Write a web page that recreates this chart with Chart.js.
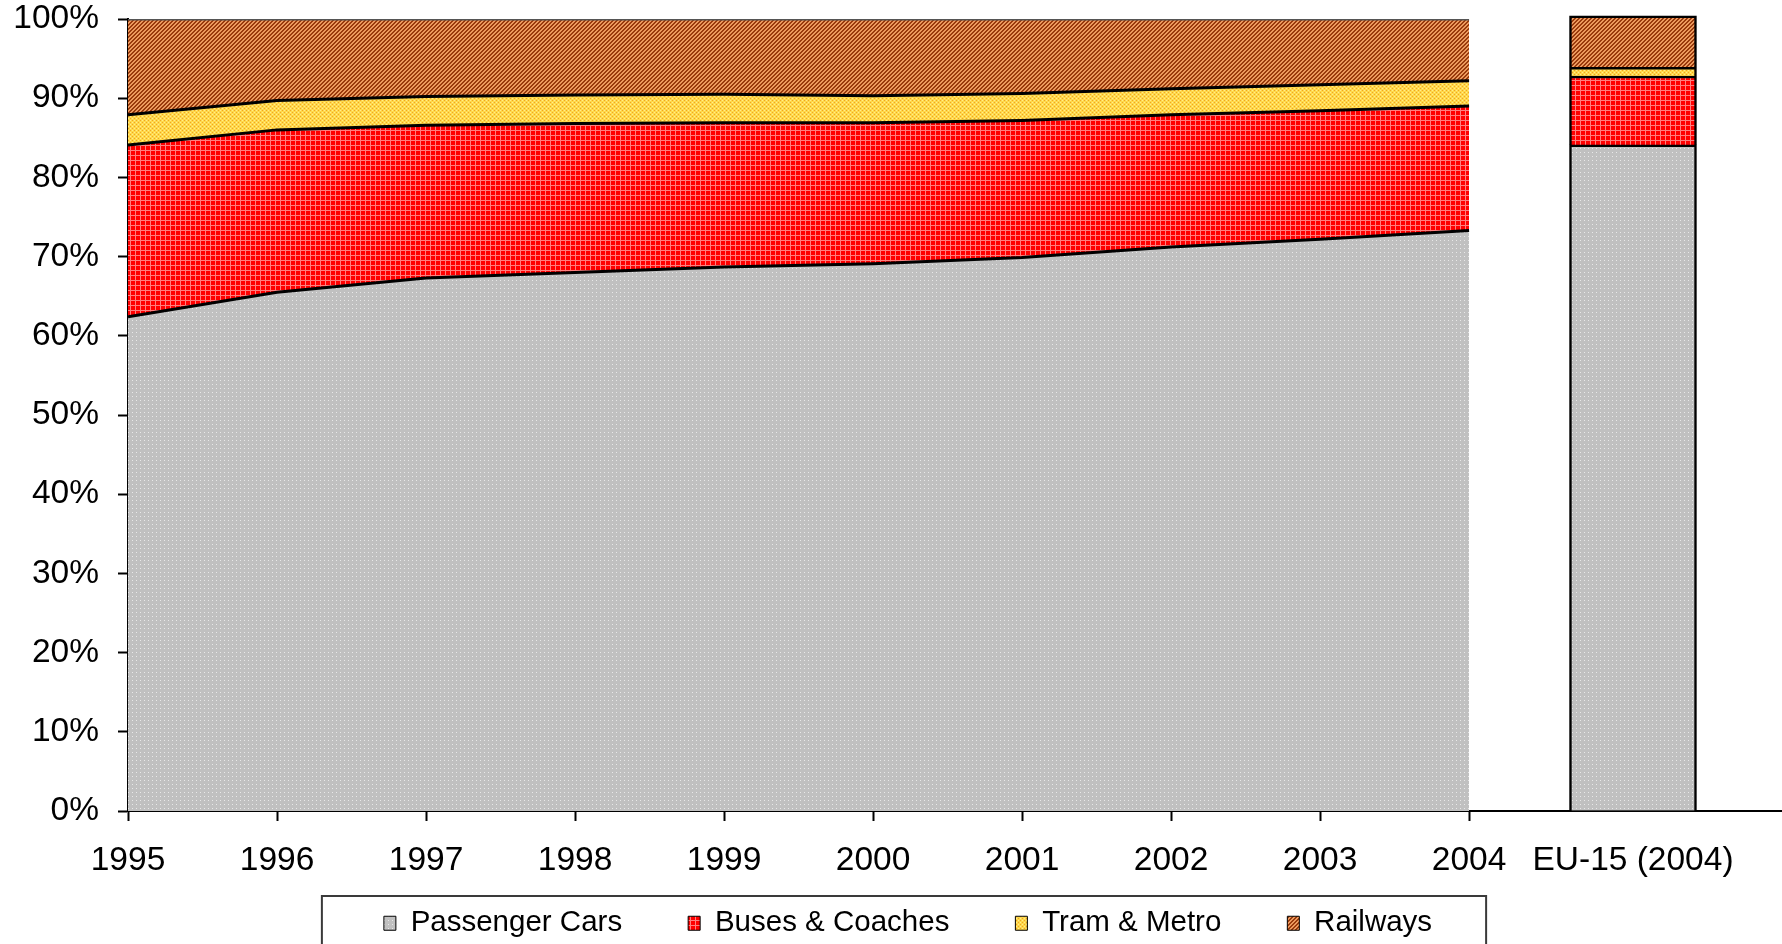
<!DOCTYPE html>
<html>
<head>
<meta charset="utf-8">
<script src="https://cdn.jsdelivr.net/npm/chart.js@4.4.1/dist/chart.umd.min.js"></script>
<style>
html,body{margin:0;padding:0;background:#fff;}
#wrap{width:1782px;height:944px;position:relative;}
</style>
</head>
<body>
<div id="wrap"><canvas id="c"></canvas></div>
<script>
// ---- data (percent shares of passenger transport) ----
const years = ['1995','1996','1997','1998','1999','2000','2001','2002','2003','2004'];
const euLabel = 'EU-15 (2004)';
const seriesNames = ['Passenger Cars','Buses & Coaches','Tram & Metro','Railways'];
const passengerCars = [62.4, 65.5, 67.3, 68.0, 68.7, 69.1, 69.9, 71.2, 72.2, 73.3];
const busesCoaches  = [21.7, 20.5, 19.3, 18.8, 18.2, 17.8, 17.3, 16.7, 16.2, 15.7];
const tramMetro     = [ 3.8,  3.7,  3.6,  3.6,  3.6,  3.4,  3.4,  3.3,  3.3,  3.2];
const railways      = [12.1, 10.3,  9.8,  9.6,  9.5,  9.7,  9.4,  8.8,  8.3,  7.8];
const eu15          = [84.1, 8.7, 1.1, 6.5]; // cars, buses, tram, railways
const yTicks = [0,10,20,30,40,50,60,70,80,90,100];

// ---- styles ----
const EU_POS = 10.1;   // axis position of the EU-15 column
const X_MAX = 11.1;
const TICK_FONT = 33.5;

function makePattern(w, h, draw) {
  const c = document.createElement('canvas');
  c.width = w; c.height = h;
  const g = c.getContext('2d');
  draw(g);
  return g.createPattern(c, 'repeat');
}
const fills = [
  makePattern(4, 4, g => { g.fillStyle = '#C0C0C0'; g.fillRect(0,0,4,4); g.fillStyle = '#E8E8E8'; g.fillRect(0,0,1,1); }),
  makePattern(5, 5, g => { g.fillStyle = '#FF0000'; g.fillRect(0,0,5,5); g.fillStyle = '#FF7F7F'; g.fillRect(0,0,5,1); g.fillRect(0,0,1,5); }),
  makePattern(4, 4, g => { g.fillStyle = '#FFD84A'; g.fillRect(0,0,4,4); g.fillStyle = '#F0A424'; g.fillRect(0,0,1,1); g.fillRect(2,2,1,1); g.fillStyle = '#FFEC90'; g.fillRect(2,0,1,1); g.fillRect(0,2,1,1); }),
  makePattern(4, 4, g => { for (let x = 0; x < 4; x++) for (let y = 0; y < 4; y++) { g.fillStyle = ((x + y) % 4 < 2) ? '#993A0C' : '#EC9A5E'; g.fillRect(x, y, 1, 1); } })
];

const areaSeries = [passengerCars, busesCoaches, tramMetro, railways];
const areaFill = ['origin', '-1', '-1', '-1'];

const datasets = [];
areaSeries.forEach((vals, k) => {
  datasets.push({
    type: 'line',
    label: seriesNames[k],
    data: vals.map((v, i) => ({x: i, y: v})),
    backgroundColor: fills[k],
    borderColor: k === 3 ? '#555555' : '#000000',
    borderWidth: 3,
    pointRadius: 0,
    tension: 0,
    fill: areaFill[k]
  });
});
eu15.forEach((v, k) => {
  datasets.push({
    type: 'bar',
    label: seriesNames[k],
    stack: 'eu',
    data: [{x: EU_POS, y: v}],
    backgroundColor: fills[k],
    borderColor: '#000000',
    borderWidth: 2.5,
    barThickness: 127,
    clip: false
  });
});

// legend: placed just below the axis labels and framed
const LEGEND_PAD = 66;
const legendPlacer = {
  id: 'legendPlacer',
  afterLayout(chart) {
    const lg = chart.legend;
    if (!lg) return;
    lg.left = 34;
    lg.top = chart.chartArea.bottom + 31.5;
  },
  afterDraw(chart) {
    const lg = chart.legend;
    const hb = lg && lg.legendHitBoxes;
    if (!hb || !hb.length) return;
    const ctx = chart.ctx;
    const last = hb[hb.length - 1];
    const l = hb[0].left - 62;
    const r = last.left + last.width + 54;
    const t = lg.top + LEGEND_PAD - 12.5;
    ctx.save();
    ctx.strokeStyle = '#3a3a3a';
    ctx.lineWidth = 2;
    ctx.strokeRect(l, t, r - l, 200);
    ctx.restore();
  }
};

Chart.defaults.font.family = "'Liberation Sans', Arial, sans-serif";
Chart.defaults.color = '#000';

new Chart(document.getElementById('c'), {
  type: 'line',
  data: { datasets },
  plugins: [legendPlacer],
  options: {
    responsive: true,
    maintainAspectRatio: false,
    animation: false,
    events: [],
    layout: { padding: 0 },
    scales: {
      x: {
        type: 'linear',
        min: 0,
        max: X_MAX,
        offset: false,
        afterBuildTicks: s => { s.ticks = years.map((_, i) => ({value: i})).concat([{value: EU_POS}]); },
        afterFit: s => { s.height = 90.2; },
        ticks: {
          autoSkip: false,
          maxRotation: 0,
          padding: 20,
          font: { size: TICK_FONT },
          callback: (v, i) => (i < years.length ? years[i] : euLabel)
        },
        grid: {
          offset: false,
          drawOnChartArea: false,
          drawTicks: true,
          tickLength: 10,
          tickWidth: 2,
          tickColor: c => (c.index >= years.length ? 'rgba(0,0,0,0)' : '#000')
        },
        border: { color: '#000', width: 2 }
      },
      y: {
        stacked: true,
        min: 0,
        max: 100,
        afterBuildTicks: s => { s.ticks = yTicks.map(v => ({value: v})); },
        afterFit: s => { s.width = 128; s.paddingTop = 19; },
        ticks: {
          padding: 19,
          font: { size: TICK_FONT },
          callback: v => v + '%'
        },
        grid: {
          drawOnChartArea: false,
          drawTicks: true,
          tickLength: 10,
          tickWidth: 2,
          tickColor: '#000'
        },
        border: { color: '#000', width: 2 }
      }
    },
    plugins: {
      tooltip: { enabled: false },
      legend: {
        position: 'bottom',
        maxHeight: 42.8,
        labels: {
          padding: LEGEND_PAD,
          boxWidth: 12,
          boxHeight: 14,
          font: { size: 29.5 },
          color: '#000',
          generateLabels: () => seriesNames.map((name, i) => ({
            text: name,
            fillStyle: fills[i],
            strokeStyle: '#000',
            lineWidth: 1,
            hidden: false,
            datasetIndex: i
          }))
        }
      }
    }
  }
});
</script>
</body>
</html>
